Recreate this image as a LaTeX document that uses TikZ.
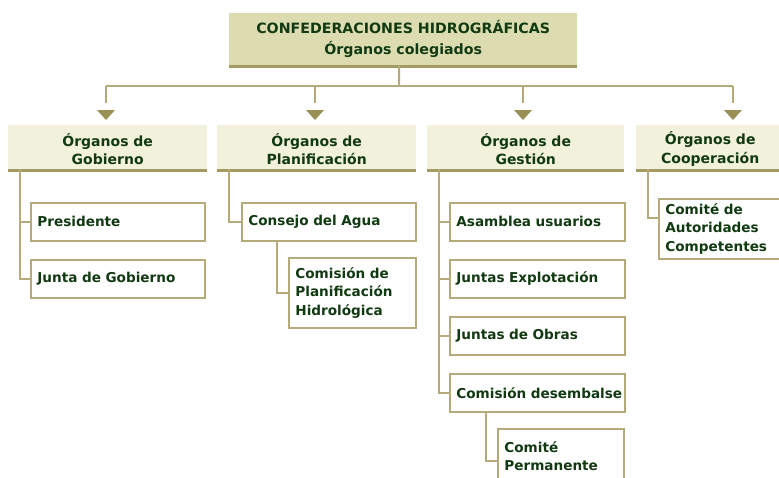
\documentclass[tikz,border=0pt]{standalone}
\usepackage{fontspec}
\setmainfont{DejaVu Sans}
\hyphenpenalty=10000
\exhyphenpenalty=10000
\definecolor{txt}{HTML}{123A12}
\definecolor{topfill}{HTML}{DCDCB0}
\definecolor{hdrfill}{HTML}{F1F1DC}
\definecolor{barc}{HTML}{A39B62}
\definecolor{linec}{HTML}{B5AB7A}
\definecolor{leafc}{HTML}{B5AB7A}
\definecolor{tric}{HTML}{9A8F55}
\newcommand\hstrut{\rule{0pt}{17pt}}
\begin{document}
\begin{tikzpicture}[x=1pt,y=-1pt,
  every node/.style={font=\fontsize{14}{18.5}\selectfont\bfseries, text=txt},
  topbox/.style={fill=topfill, anchor=north west, align=center, inner sep=0pt,
    minimum width=348pt, minimum height=52pt, font=\fontsize{14.2}{21}\selectfont\bfseries},
  hdr/.style={fill=hdrfill, anchor=north west, align=center, inner sep=0pt, minimum height=44pt},
  leaf/.style={draw=leafc, line width=1.8pt, fill=white, anchor=north west, align=left,
    inner xsep=0pt, inner ysep=0pt, font=\fontsize{13.6}{18.2}\selectfont\bfseries,
    execute at begin node={\leftskip=6.5pt\relax}},
  conn/.style={draw=linec, line width=2pt},
  bar/.style={draw=barc, line width=3pt},
  tri/.style={fill=tric}]
\useasboundingbox (0,0) rectangle (779,477);
\clip (0,0) rectangle (779,477);

% top box
\node[topbox] (top) at (229,13) {CONFEDERACIONES HIDROGRÁFICAS\\Órganos colegiados};
\draw[bar] ([yshift=-1.5pt]top.south west) -- ([yshift=-1.5pt]top.south east);

% bus
\coordinate (bus) at (399,86);
\coordinate (s1) at (106,86);
\coordinate (s2) at (315,86);
\coordinate (s3) at (523,86);
\coordinate (s4) at (733,86);
\draw[conn] ([xshift=-4pt]top.south) -- (bus);
\draw[conn] (s1) -- (s4);
\foreach \s in {s1,s2,s3,s4}{
  \draw[conn] (\s) -- ++(0,17);
  \fill[tri] ([shift={(-9,24)}]\s) -- ++(18,0) -- ++(-9,10) -- cycle;
}

% headers
\node[hdr, minimum width=199pt] (h1) at (8,125) {\hstrut Órganos de\\Gobierno};
\node[hdr, minimum width=199pt] (h2) at (217,125) {\hstrut Órganos de\\Planificación};
\node[hdr, minimum width=197pt] (h3) at (427,125) {\hstrut Órganos de\\Gestión};
\node[hdr, minimum width=148pt] (h4) at (636,125) {\hstrut Órganos de\\Cooperación};
\foreach \h in {h1,h2,h3,h4}
  \draw[bar] ([yshift=-1.5pt]\h.south west) -- ([yshift=-1.5pt]\h.south east);

% leaves column 1
\node[leaf, text width=174pt, minimum height=38pt] (pres) at (30,202) {Presidente};
\node[leaf, text width=174pt, minimum height=38pt] (jg) at (30,259) {Junta de Gobierno};
% column 2
\node[leaf, text width=174pt, minimum height=38pt] (ca) at (241,202) {Consejo del Agua};
\node[leaf, text width=127pt, minimum height=70pt] (cph) at (288,257) {Comisión de\\Planificación\\Hidrológica};
% column 3
\node[leaf, text width=175pt, minimum height=38pt] (asam) at (449,202) {Asamblea usuarios};
\node[leaf, text width=175pt, minimum height=38pt] (je) at (449,259) {Juntas Explotación};
\node[leaf, text width=175pt, minimum height=38pt] (jo) at (449,316) {Juntas de Obras};
\node[leaf, text width=175pt, minimum height=38pt] (cd) at (449,373) {Comisión desembalse};
\node[leaf, text width=126pt, minimum height=54pt] (cp) at (497,428) {Comité\\Permanente};
% column 4
\node[leaf, text width=140pt, minimum height=60pt] (cac) at (658,198) {Comité de\\Autoridades\\Competentes};

% connectors
\draw[conn] ([xshift=11.5pt]h1.south west) |- (pres.west);
\draw[conn] ([xshift=11.5pt]h1.south west) |- (jg.west);
\draw[conn] ([xshift=12pt]h2.south west) |- (ca.west);
\draw[conn] ([xshift=36pt]ca.south west) |- (cph.west);
\draw[conn] ([xshift=11.5pt]h3.south west) |- (asam.west);
\draw[conn] ([xshift=11.5pt]h3.south west) |- (je.west);
\draw[conn] ([xshift=11.5pt]h3.south west) |- (jo.west);
\draw[conn] ([xshift=11.5pt]h3.south west) |- (cd.west);
\draw[conn] ([xshift=37pt]cd.south west) |- ([yshift=-5pt]cp.west);
\draw[conn] ([xshift=12pt]h4.south west) |- ([yshift=11pt]cac.west);
\end{tikzpicture}
\end{document}
